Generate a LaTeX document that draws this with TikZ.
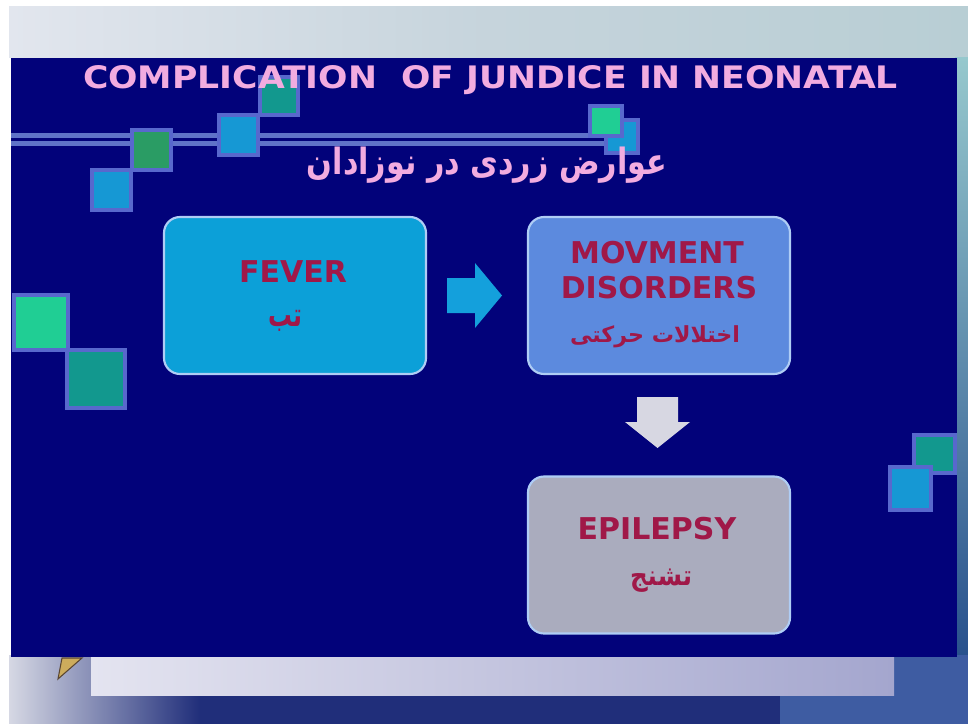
\documentclass[tikz,border=0pt]{standalone}
\usepackage{fontspec}
\setmainfont{DejaVu Sans}
\newfontfamily\arabicfont[Script=Arabic]{DejaVu Sans}
\TeXXeTstate=1
\usetikzlibrary{calc}
\definecolor{navy}{RGB}{2,2,122}
\definecolor{titlepink}{RGB}{242,172,224}
\definecolor{crimson}{RGB}{160,24,72}
\definecolor{feverfill}{RGB}{12,160,216}
\definecolor{movfill}{RGB}{92,138,222}
\definecolor{epifill}{RGB}{170,172,190}
\definecolor{boxline}{RGB}{175,205,245}
\definecolor{arrowblue}{RGB}{20,160,220}
\definecolor{arrowgray}{RGB}{215,215,226}
\definecolor{sqedge}{RGB}{88,104,205}
\definecolor{sqgreen}{RGB}{42,156,100}
\definecolor{sqblue}{RGB}{22,152,212}
\definecolor{sqteal}{RGB}{18,152,142}
\definecolor{sqmint}{RGB}{32,206,148}
\definecolor{hline}{RGB}{95,115,200}
\definecolor{bandleft}{RGB}{226,230,238}
\definecolor{bandtop}{RGB}{198,212,220}
\definecolor{bandright}{RGB}{184,206,212}
\definecolor{stripetop}{RGB}{150,200,205}
\definecolor{stripebot}{RGB}{40,80,140}
\definecolor{bottomblue}{RGB}{32,46,122}
\definecolor{bottomleft}{RGB}{214,216,228}
\definecolor{bottomright}{RGB}{62,92,162}
\definecolor{lavband}{RGB}{164,166,206}
\definecolor{lavbandl}{RGB}{228,228,240}
\definecolor{penfill}{RGB}{205,172,92}
\definecolor{penline}{RGB}{90,70,50}
\tikzset{
  sq/.style={draw=sqedge, line width=3pt},
  hbar/.style={draw=hline, line width=3.75pt},
  box/.style={rounded corners=12pt, draw=boxline, line width=1.6pt,
    minimum width=196.5pt, minimum height=117.75pt, inner sep=0pt},
  lab/.style={text=crimson, font=\fontsize{22.5}{27}\selectfont\bfseries, inner sep=0pt, anchor=base},
  arlab/.style={text=crimson, inner sep=0pt, anchor=base}
}
\begin{document}
\begin{tikzpicture}[x=0.75pt,y=-0.75pt]
\useasboundingbox (0,0) rectangle (968,724);
% background
\fill[white] (0,0) rectangle (968,724);
\shade[left color=bandleft, right color=bandright, middle color=bandtop]
  (9,7) rectangle (968,58);
\shade[top color=stripetop, bottom color=stripebot]
  (955,58) rectangle (968,660);
\fill[bottomblue] (9,655) rectangle (968,724);
\shade[left color=bottomleft, right color=bottomblue]
  (9,655) rectangle (200,724);
\fill[bottomright] (780,695) rectangle (968,724);
\fill[bottomright] (894,655) rectangle (968,695);
\shade[left color=lavbandl, right color=lavband] (91,657) rectangle (894,695);
% navy panel
\fill[navy] (11,58) rectangle (957,657);
% pencil tip
\filldraw[fill=penfill, draw=penline, line width=0.8pt]
  (58,679) -- (62,658) -- (82,658) -- cycle;
% horizontal bars
\draw[hbar] (11,135.5) -- (604,135.5);
\draw[hbar] (11,143.5) -- (604,143.5);
% decorative squares
\filldraw[sq, fill=sqteal] (260,77) rectangle (298,115);
\filldraw[sq, fill=sqblue] (219,115) rectangle (258,155);
\filldraw[sq, fill=sqgreen] (132,130) rectangle (171,170);
\filldraw[sq, fill=sqblue] (92,170) rectangle (131,210);
\filldraw[sq, fill=sqblue] (606,120) rectangle (638,153);
\filldraw[sq, fill=sqmint] (590,106) rectangle (622,136);
\filldraw[sq, fill=sqmint] (14,295) rectangle (68,350);
\filldraw[sq, fill=sqteal] (67,350) rectangle (125,408);
\filldraw[sq, fill=sqteal] (914,435) rectangle (955,473);
\filldraw[sq, fill=sqblue] (890,467) rectangle (931,510);
% titles
\node[text=titlepink, inner sep=0pt, anchor=base] (title) at (490.5,89)
  {\resizebox{611pt}{17.25pt}{\bfseries COMPLICATION\ \ OF JUNDICE IN NEONATAL}};
\node[text=titlepink, inner sep=0pt, anchor=base] (subtitle) at (487,175)
  {\scalebox{1}[1.2]{\resizebox{270pt}{!}{\arabicfont\bfseries\beginR عوارض زردی در نوزادان\endR}}};
% boxes
\node[box, fill=feverfill] (fever) at (295,295.5) {};
\node[box, fill=movfill] (mov) at (659,295.5) {};
\node[box, fill=epifill] (epi) at (659,555) {};
% block arrows between the boxes
\fill[arrowblue] (447,278) -- (475,278) -- (475,263) -- (502,295.5)
  -- (475,328) -- (475,313) -- (447,313) -- cycle;
\fill[arrowgray] (637,397) -- (678,397) -- (678,422) -- (690,422)
  -- (657.5,448) -- (625,422) -- (637,422) -- cycle;
% labels
\node[lab] (feverlab) at (293,282) {FEVER};
\node[arlab] (feverar) at (285,326) {\scalebox{1}[1.4]{\resizebox{25.5pt}{!}{\arabicfont\bfseries\beginR تب\endR}}};
\node[lab] (movlab1) at (657,263) {MOVMENT};
\node[lab] (movlab2) at (659,298) {DISORDERS};
\node[arlab] (movar) at (655,342) {\resizebox{127.5pt}{!}{\arabicfont\bfseries\beginR اختلالات حرکتی\endR}};
\node[lab] (epilab) at (657,539) {EPILEPSY};
\node[arlab] (epiar) at (661,585) {\scalebox{1}[1.15]{\resizebox{46.5pt}{!}{\arabicfont\bfseries\beginR تشنج\endR}}};
\end{tikzpicture}
\end{document}
